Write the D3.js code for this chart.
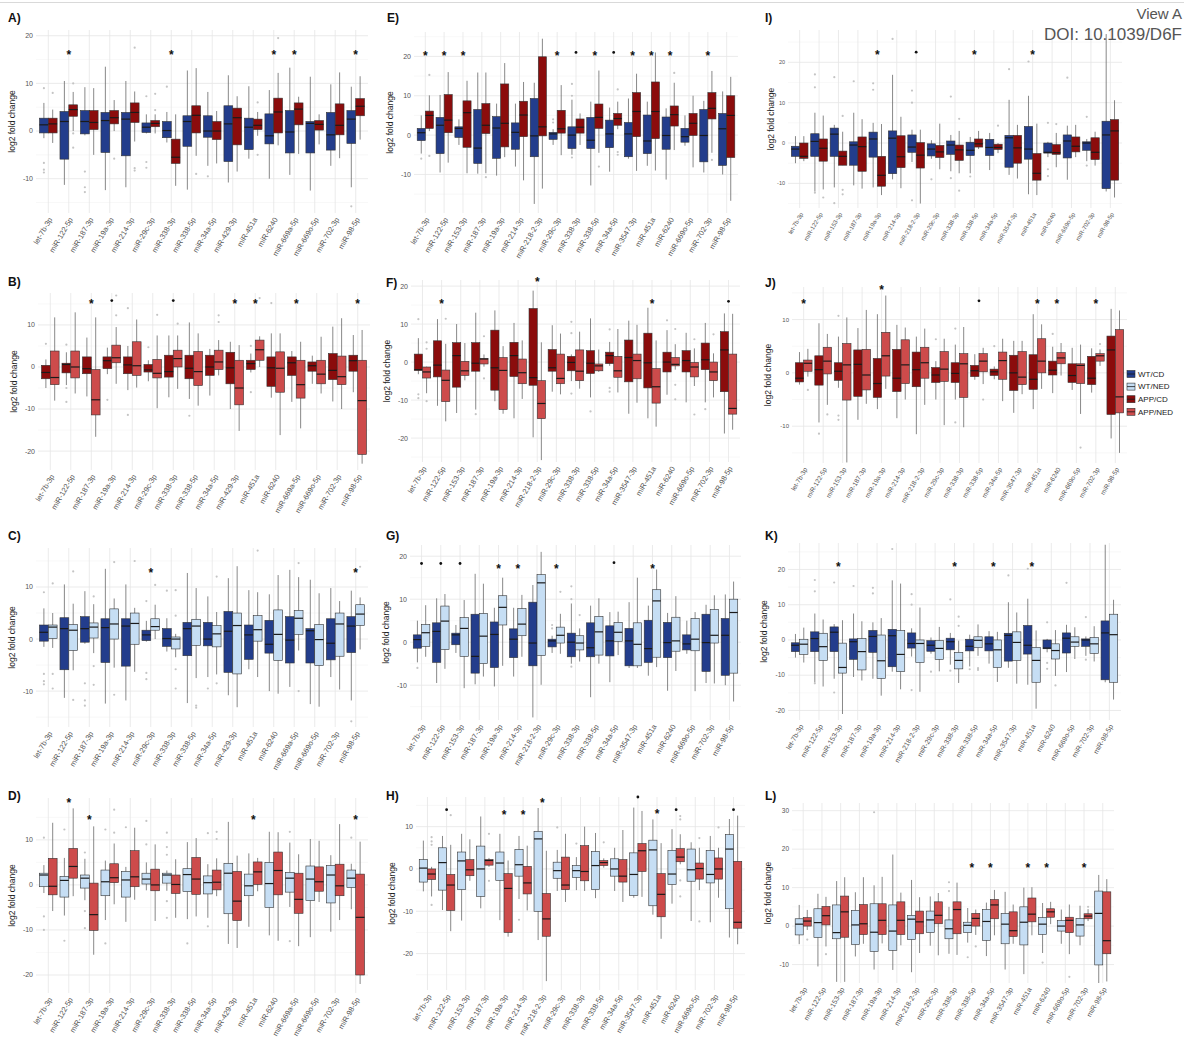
<!DOCTYPE html>
<html>
<head>
<meta charset="utf-8">
<script src="https://cdn.jsdelivr.net/npm/d3@7"></script>
<style>
body { margin: 0; background: #fff; }
svg { display: block; font-family: "Liberation Sans", Arial, sans-serif; }
</style>
</head>
<body>
<div id="chart"></div>
<script>
// categories
const CATS_16 = ["let-7b-3p", "miR-122-5p", "miR-187-3p", "miR-19a-3p", "miR-214-3p", "miR-29c-3p", "miR-338-3p", "miR-338-5p",
    "miR-34a-5p", "miR-429-3p", "miR-451a", "miR-6240", "miR-669a-5p", "miR-669o-5p", "miR-702-3p", "miR-98-5p"];
const CATS_17 = ["let-7b-3p", "miR-122-5p", "miR-153-3p", "miR-187-3p", "miR-19a-3p", "miR-214-3p", "miR-218-2-3p", "miR-29c-3p",
    "miR-338-3p", "miR-338-5p", "miR-34a-5p", "miR-3547-3p", "miR-451a", "miR-6240", "miR-669o-5p", "miR-702-3p", "miR-98-5p"];
const GROUPS = ["WT/CD", "WT/NED", "APP/CD", "APP/NED"];

// box rows: [lower whisker, q1, median, q3, upper whisker]; outliers: [category index, value]
// sig: [category index, mark, y]
const WTCD_A = [[-1.5,-0.4,1.3,2.7,5.9],[-11.3,-5.9,2,4.1,10.5],[-0.9,-0.6,2,4.3,9.2],[-12.4,-4.5,2.2,3.9,13.5],
    [-11.8,-5.2,2.5,3.9,10.5],[-0.5,-0.3,0.8,1.7,3.5],[-2.4,-1.4,0.1,2,4],[-12.3,-3.2,2,3.2,12.7],
    [-7.3,-1.3,0,3.2,8.2],[-10.8,-6.4,1.5,5.3,11.7],[-5.8,-3.9,0.8,2.7,9.4],[-10,-2.7,-1,3.6,8.6],
    [-9.2,-4.6,-0.2,4.3,13.3],[-12.5,-4.6,1.6,2,11.4],[-7.3,-4,-0.8,3.9,9.8],[-11.8,-2.6,2.5,4.3,9.3]];
const WTCD_A_OUT = [[0,9],[0,-6.7],[0,-8.1],[0,-8.7],[2,-8.5],[2,-11.8],[2,-12.8],[5,7.3],[5,-6.5],[5,-7.7],[6,9.3],[8,-9.5],[15,-15.8]];

const A_APPCD = [[-2.5,-0.4,1.5,2.7,4.5],[0,3.1,4.5,5.5,8.2],[-5,0.3,1.8,4.3,9],[0,1.5,2.8,4.3,6.5],
    [-2.2,1.8,3.9,5.9,8.3],[-0.5,0.9,1.6,2.2,3.5],[-11.5,-6.8,-5.5,-1.7,3.5],[-5.2,-0.4,3.3,5.3,13.2],
    [-6.8,-1.8,0,2,4.2],[-8.5,-2.9,2.8,4.8,7.3],[-1,0.3,1.2,2.5,4],[-3,-0.4,4,6.9,12.2],
    [-4.8,1.3,4.6,5.9,7.2],[-2.8,0.2,1.4,2.2,3.5],[-5.7,-0.8,1.2,5.7,12.3],[-1.8,3.2,5.2,6.8,11.5]];
const A_APPCD_OUT = [[0,8],[1,10],[1,-0.5],[1,-3.5],[3,-5.8],[4,17.5],[4,-7.8],[4,-8.3],[5,7.8],[5,4.4],[7,-9],[10,6],[10,-5],[11,19.5]];
const A_SIG = [[1,"*",16.3],[6,"*",16.3],[11,"*",16.3],[12,"*",16.3],[15,"*",16.3]];

const B_APPCD = [[-5,-2.8,-1.3,0.4,1.8],[-4.3,-1.4,0.6,0.9,3.5],[-7,-1.6,-0.4,2.4,7],[-1.7,-0.4,1.5,2.4,4.6],
    [-5.5,-1.6,0.5,2.4,5],[-3.4,-1.2,-0.7,0.6,1.6],[-7.2,-2.4,-1.1,2.8,7.5],[-7.6,-2.8,-0.3,2.8,10.6],
    [-6.8,-2,0,2.8,4.3],[-10,-4,-0.2,3.5,6],[-1.3,-0.6,0.8,1.6,3.2],[-7.3,-4.6,-0.2,2.4,8],
    [-8.3,-2,1,2.4,3.8],[-4,-1,0.3,1.2,2.7],[-8.2,-3,-0.8,3.2,9.6],[-6,-1,1.5,2.8,7.6]];
const B_APPCD_OUT = [[0,5.5],[1,5.3],[1,-5],[1,-8.3],[3,-7.8],[4,14],[4,-11.4],[5,4.7],[7,-11.6],[10,5],[10,-6],[11,15.2]];
const B_APPNED = [[-8,-4.2,-2.5,3.8,11.8],[-6.3,-2.6,0,3.8,13],[-16.6,-11.4,-7.8,-0.6,11.8],[-4,1,2.2,5.2,9.5],
    [-4.9,-2,0.3,6,11.3],[-9.8,-2.6,-1.5,1.8,7.5],[-5.2,0,2,4,7.5],[-9.2,-4.4,-1.1,3.7,8],
    [-2,-0.6,1.2,4,6.4],[-15.2,-9,-5,1.6,5.2],[0,1.6,4.1,6.4,7.3],[-16.2,-6,-0.3,3.6,8],
    [-14.6,-7.4,-4.2,1.6,6],[-6.3,-4,-1.7,1.6,7.2],[-10,-4.2,-2.3,2.6,11.6],[-23,-20.8,-8,1.6,8.8]];
const B_APPNED_OUT = [[3,17],[3,12.3],[5,12.4],[6,10.3],[8,12.3],[8,10.7],[10,16.4]];
const B_SIG = [[2,"*",15.4],[3,".",15.8],[6,".",15.8],[9,"*",15.4],[10,"*",15.4],[12,"*",15.4],[15,"*",15.4]];

const C_WTNED = [[-1.7,0.1,2.3,2.7,5],[-6,-2.2,1.7,2.8,6.8],[-2.7,0.2,2.3,3.1,6.7],[-5.5,0,2.9,5.8,7.8],
    [-6.3,-1,3,5,6],[0,1.7,2.4,3.9,6.6],[-3.5,-1.9,0,0.4,1],[-7.5,-1.2,2.5,3.8,9.8],
    [-6.8,-1.5,1,2.6,5.2],[-13.1,-6.7,2.6,5,14],[-7.3,-0.4,1.8,4.5,9],[-10.5,-4.1,0.9,5.6,12.3],
    [-2.2,0.9,4,5.5,11.9],[-13,-5.1,-0.1,2.8,8.8],[-9.7,-3.3,2.9,5,7.3],[-2,2.6,4.8,6.6,8]];
const C_WTNED_OUT = [[0,10.7],[0,-6.7],[0,-9.5],[1,13],[1,-11.7],[2,8.2],[2,-5.2],[2,-8.8],[3,14.8],[3,-10.7],[4,15],[5,10.4],
    [6,9.4],[6,4.5],[6,-5.8],[6,-9.5],[7,-12.8],[7,-13.2],[8,12],[8,-8.5],[10,17],[12,14.6],[12,-10],[15,13.9]];
const C_SIG = [[5,"*",13],[15,"*",13]];

const D_WTNED = [[-1.8,-0.4,2.2,2.6,4.4],[-6.8,-2.7,1,1.9,6],[-3.4,-0.7,1.5,2.2,5.8],[-7.8,-2.4,0.7,3.3,5.4],
    [-8.2,-2.7,1.1,3,4],[-1.2,0.2,1.3,2.6,5],[-1.3,0.4,2.2,2.6,3.2],[-7.6,-1.5,2.3,3.6,9.5],
    [-7.3,-2,0.5,2,4.6],[-13.1,-6.4,2.6,4.8,14],[-9.3,-2.4,-0.2,2.4,7],[-11.2,-5,0.3,5,11.8],
    [-4.9,-1.6,1.5,2.8,9.4],[-11.6,-3.5,1.3,4.2,10.2],[-10.4,-4,2.2,4.3,6.6],[-5.4,-0.6,1.5,3.3,4.7]];
const D_WTNED_OUT = [[0,10.5],[0,-7],[0,-10],[1,12.3],[1,-12.4],[2,7.2],[2,-5.8],[2,-9.6],[3,12.3],[3,-13],[4,12.8],[5,9],[5,14.2],
    [6,11.6],[6,8.4],[6,6.7],[6,-3.6],[6,-7.3],[7,-13],[8,11.5],[8,-9.2],[12,11.8],[12,-12.5],[15,10.5]];
const D_APPNED = [[-5.8,-2.2,-0.3,5.9,13.8],[-2.5,1.5,4.1,8.1,17],[-15.5,-10.1,-6.6,0.4,13],[-4.3,0.5,1.6,4.7,9.2],
    [-3.3,-0.4,1.8,7.6,12.7],[-8,-1.3,0,3.5,9],[-7.3,-1.9,0.1,2.2,5.7],[-7,-2.1,1.3,6.1,10.4],
    [-2.5,-1.1,0.6,3.3,5.9],[-14,-7.9,-3.6,3,6.5],[-1.4,0.1,2.9,5.1,6],[-12.4,-2.2,3.2,7.3,11.7],
    [-13.6,-6.3,-3.2,2.6,6.8],[-3.8,-1.4,0.7,4,9.8],[-7.8,-2.4,-0.2,4.6,13.5],[-22,-20,-7.2,2.4,9.6]];
const D_APPNED_OUT = [[3,16.7],[3,11.6],[8,11.8],[8,10.2]];
const D_SIG = [[1,"*",18.7],[2,"*",14.8],[10,"*",14.8],[15,"*",14.8]];

const WTCD_E = [[-4.7,-1.4,0.6,1.7,5],[-9.5,-4.7,2.5,4.5,10.2],[-2.5,-0.6,1.7,2.1,4],[-9.8,-7.2,-3.3,6.5,15.9],
    [-10.3,-5.9,1.8,4.7,8],[-8,-3.6,0.7,3.1,8],[-17.5,-5.5,-0.2,9.3,13.3],[-2.5,-1.1,0.3,0.7,1.5],
    [-5,-3.4,0,2.1,9],[-12.8,-3.4,-1.3,4.5,8.5],[-9.3,-3.2,0.3,3.8,7],[-6,-5.5,0.3,3.2,9.3],
    [-7.8,-4.7,-1.5,5.1,8.5],[-11.3,-3.6,-0.1,4.6,6.8],[-2.7,-1.8,-0.4,1.7,5],[-9.5,-6.8,-0.1,6.5,8.7],
    [-10,-7.7,1.6,5.5,11.1]];
const WTCD_E_OUT = [[0,-6],[7,4],[7,3.2],[8,13],[8,10],[8,-5.7]];

const E_APPCD = [[1,1.7,5,6.1,10.1],[-7,0.6,3.8,10.3,16],[-9.7,-3.1,5.7,8.7,13.8],[-9.7,0.4,2.5,8,15.9],
    [-5.6,-3,3,13,18.3],[-11.5,-0.4,5.1,8.6,13.5],[-13.6,-0.2,2.1,19.9,24.5],[-5.1,0.5,1.6,6.3,12.7],
    [-2.5,0.5,2,4.1,5.5],[-4.5,1.7,4.5,7.9,16.4],[1.5,2.5,4.2,5.5,8.5],[-9.1,-0.4,6,10.8,15.6],
    [-9,-0.9,6,13.5,21],[-3.8,2.3,5.2,7.4,13.3],[-8.2,-0.1,3,5.5,10],[-4.5,4.1,6.8,10.8,16.3],
    [-16.7,-5.7,5,10,14.8]];
const E_APPCD_OUT = [[0,15.3],[0,-5.3],[3,-10.7],[9,-8],[10,11.6],[10,-4.3],[10,-5],[13,15.8],[15,-6.3]];
const E_SIG = [[0,"*",20.6],[1,"*",20.6],[2,"*",20.6],[7,"*",20.6],[8,".",21],[9,"*",20.6],[10,".",21],
    [11,"*",20.6],[12,"*",20.6],[13,"*",20.6],[15,"*",20.6]];

const F_APPCD = [[-3.2,-2.2,-2,2.1,6.3],[-11.5,-3.9,-0.8,5.6,11.3],[-13.4,-6.6,1.7,5.1,10],[-12.5,-2.4,-0.3,5.1,13],
    [-10.3,-7.4,-1.5,8.4,13.6],[-14.8,-3.8,1.7,5.2,10.3],[-19.8,-6.1,-4.1,14.1,18.8],[-7.8,-2.4,-1.5,3.3,9.7],
    [-5,-2.3,-0.1,1.5,2],[-9.3,-3,-0.3,3,11.5],[-1,-0.4,1.7,2.6,5.3],[-13.6,-5.2,1.2,5.8,10.9],
    [-14.8,-6.8,-0.2,7.6,14.3],[-8.6,-2.6,0,2.6,8.4],[-10.6,-2.6,0.4,3,7.7],[-10.6,-2,0.6,5,10.3],
    [-18.8,-7.8,3.2,8,12.8]];
const F_APPCD_OUT = [[0,11.3],[0,-8.5],[0,-9.5],[3,-13.7],[8,10.6],[8,7.6],[8,-8.3],[9,-13],[10,8.6],[10,-6.8],[10,-7.8],[13,11],[15,-12.4]];
const F_APPNED = [[-8.2,-4.2,-2.6,-1.3,-1.2],[-15.6,-10.4,-4.8,-2.1,4.8],[-4.8,-3.5,-2.3,0.2,5],[-1.2,-0.5,0.8,0.9,2],
    [-13.6,-12.5,-2.2,1.2,4.2],[-9.7,-5.7,-2.8,0.8,5.7],[-25.8,-14.9,-10.9,-4.9,5.2],[-8.5,-5.7,-4.3,2.1,7.5],
    [-7,-4.9,-2.4,3.2,8],[-2.6,-2.3,-1,-0.5,3.3],[-8,-4,-2.3,1.5,8.7],[-10.7,-4.4,0.4,2.1,9.8],
    [-17,-10.8,-6.5,-1.7,5.7],[-2,-1,-0.6,1.2,4.7],[-6.3,-3.9,-1.3,-0.1,3.6],[-9.3,-4.9,-2.6,0,2.3],
    [-17.8,-13.7,-12.2,2.1,12.7]];
const F_APPNED_OUT = [[0,5.2],[0,3.5],[0,-10.3],[1,11.4],[3,6.8],[3,-4.3],[13,8.7],[13,-6],[13,-9.8],[14,6],[14,-13.8],[15,7.3]];
const F_SIG = [[1,"*",15.9],[6,"*",21.5],[12,"*",15.9],[16,".",16]];

const G_WTNED = [[-3.4,-1,2.2,4.1,8.6],[-6.2,-1.7,4.9,8.4,11.2],[-10.7,-3.3,3.2,5.7,9.8],[-8,-5,1.4,6.7,13.6],
    [-5.5,4,8.1,10.8,15],[-3.4,1.5,4.2,7.8,11],[-9.9,-3.1,13.8,15.7,21],[-2.7,-0.2,1.6,3.5,6.6],
    [-4.5,-1.8,-0.2,1.5,3.2],[-5,-3,2.4,6,10.2],[-3,0.2,2.3,4.6,7.1],[-6,-5.5,-0.5,4.5,15],
    [-5.8,-3.5,9.6,12.2,16.9],[-6.7,-2.1,0.3,5.8,10.7],[-11.4,-2,0.7,5.5,7],[-9.6,-0.2,1.6,7.6,10.9],
    [-13.8,-7.2,6.9,10,14.1]];
const G_WTNED_OUT = [[7,11.7],[8,6.3]];
const G_SIG = [[0,".",18.3],[1,".",18.3],[2,".",18.3],[4,"*",17.5],[5,"*",17.5],[7,"*",17.5],[10,".",18.5],[12,"*",17.5]];

const H_WTNED = [[-5.3,-3.1,0.2,2.2,6.7],[-9.7,-5,1.5,5,7.8],[-12.2,-4.9,1.9,4,8.3],[-9.3,-6.5,0,5.4,12.4],
    [-12.1,-2.7,1.4,4,8.3],[-7.1,-1.7,1,4.6,7.8],[-16.8,-10,7.1,8.9,14.4],[-5.2,-2.2,-0.4,1.6,4.5],
    [-5,-2,-0.4,0.8,2.8],[-6.9,-4.9,0.8,4.1,8.5],[-5.2,-1.7,0,2.4,5],[-6.8,-6.3,-1.3,3.8,14.5],
    [-10.8,-8.7,4.5,6.8,11.7],[-8.2,-3.7,-1.2,4.4,9.4],[-12.3,-2.9,-0.2,4.7,6.3],[-12.6,-3.3,-1.3,4.4,7.8],
    [-16.2,-9.4,4.7,8.1,11.8]];
const H_WTNED_OUT = [[5,-12],[7,9.8],[8,6]];
const H_APPNED = [[-6.5,-2.5,-1.2,0,0.5],[-14.7,-9.8,-3.8,-1.3,5.7],[-2.8,-1.6,-0.2,2.2,7],[0.5,0.9,2,2.2,2.6],
    [-16,-15,-4.6,-1.1,2],[-9.8,-5.9,-3.3,0.6,5.5],[-26.5,-15.9,-11.8,-5.8,4.3],[-7.8,-4.9,-3.8,2.8,8.3],
    [-5.2,-2.8,-0.6,5.5,10],[0.3,0.8,1.5,2,2.5],[-7.8,-3.1,-1.7,2.2,9.2],[-6.6,-0.6,4.3,6,13.7],
    [-16.5,-11.3,-6,-1.1,6.1],[1.1,1.7,2.8,4.8,8.2],[-5,-2.4,0.1,1.4,5],[-6.8,-2.4,0,2.6,5],
    [-17.8,-14,-12.6,1.8,12.6]];
const H_APPNED_OUT = [[0,7.5],[0,6.5],[0,5.7],[0,-8.5],[1,12.7],[3,8.3],[3,-2.8],[9,6.3],[13,12.5],[13,11.7],[13,-2.7],[13,-6.5],
    [14,7.3],[14,-12.4],[15,9.8]];
const H_SIG = [[1,".",14],[4,"*",13.2],[5,"*",13.2],[6,"*",16],[11,".",17],[12,"*",13.4],[13,".",14],[16,".",14]];

const WTCD_I = [[-5,-3.3,-1.5,-0.8,1.7],[-12,-3.3,0.4,2.3,7.5],[-11,-3.3,2.2,3.7,4.5],[-10.5,-5.5,-0.5,0.3,7.5],
    [-11,-3.5,1,2.7,5],[-9,-7.6,1.2,3,16.9],[-4.7,-2.3,-1,2,3.3],[-3.9,-3.2,-1.5,-0.2,0.7],
    [-7,-2.8,-0.5,0.5,2],[-7.5,-3.1,-1.8,0.2,1.5],[-6.7,-3.1,-1.1,0.9,2.5],[-7.9,-6,1.3,1.9,10.7],
    [-12.7,-4,-1.5,4.1,11.7],[-3.5,-2.5,-2.3,0,0.3],[-9.1,-3.7,0.5,2,4.3],[-4.5,-1.8,0,0.3,1],
    [-12,-11.3,2,5.4,27]];
const WTCD_I_OUT = [[1,17],[1,13.8],[1,-12.3],[2,16.3],[2,-14.9],[3,15.3],[4,14.8],[4,13.2],[5,25.8],[6,13],[6,10],[6,-14.2],
    [7,-9],[8,11.5],[8,-8.7],[9,-8.3],[11,18.3],[12,20.2],[13,5],[13,-6.5],[13,-8.2],[14,16.2],[15,6.5],[15,-5.6]];

const I_APPCD = [[-4.5,-3.8,-3.3,0,1.7],[-11.5,-4.5,-1.3,1,6.8],[-5.5,-5.5,-3.3,-2,2.8],[-11.3,-7,-0.9,1.5,5.9],
    [-12.9,-10.7,-8,-3.3,4.7],[-11.2,-6.1,-3.4,1.8,6.5],[-15,-6.2,-3,0.1,3.3],[-6.5,-3.6,-2.2,-0.6,4.8],
    [-7.5,-4.3,-1.7,-0.5,3],[-1.5,-1,-0.2,1,3],[-2.5,-1.6,-1.1,-0.3,0],[-8.8,-5,-1.2,1.9,4.5],
    [-12.9,-9.2,-7.5,-2.6,4.8],[-6,-2.8,-2.4,-0.4,2.5],[-3.5,-2.2,-0.8,1.5,4.5],[-5.6,-4.1,-2.3,1.3,2.8],
    [-13.5,-9.2,3,5.8,10.6]];
const I_APPCD_OUT = [[1,-13.5],[2,6.7],[2,-11.6],[2,-12.7],[8,6],[8,-11.8],[10,4.3],[13,4.7]];
const I_SIG = [[4,"*",22.3],[6,".",22.5],[9,"*",22.3],[12,"*",22.3]];

const J_APPCD = [[-2.2,-1.7,-1,1.9,3.9],[-9.3,-2.3,0.6,3.2,9.3],[-2.8,-1.4,0.3,1.9,6.8],[-8.8,-4.4,1.6,4.3,8.4],
    [-6.8,-4.6,-2,2.7,11],[-8.5,-3.5,-1,4.4,9],[-11.5,-2.6,0.6,3.9,6.8],[-5,-1.8,-0.4,1,2.2],
    [-5,-1.8,-0.1,1.9,5.3],[-1.3,-0.7,0.4,1.4,3.5],[-1.2,-0.5,0.2,0.7,1.2],[-7.5,-3.3,0,3.3,6],
    [-6.8,-3.1,-1.2,3.4,11],[-3.8,-0.4,0.5,2.2,4.9],[-3.2,-1.8,-0.5,1.7,4.7],[-3.7,-2.2,-1,3.1,4.6],
    [-12.3,-7.8,4.3,6.9,12]];
const J_APPCD_OUT = [[1,-11.4],[2,10.7],[2,-8],[2,-8.8],[7,6.3],[8,8.3],[8,-9.3],[10,5],[13,7.3]];
const J_APPNED = [[-0.7,0.3,1.8,2.4,4.5],[-6,-0.2,2.2,4.8,7.3],[-16.8,-5.1,1.5,5.5,10.4],[-5.8,-3.2,-0.4,4.4,11.8],
    [-3,-0.6,3.2,7.6,14.5],[-5,-2,1.5,6.2,8.5],[-6,-1,1.9,4.8,8.3],[-9.8,-1.6,0.7,4,6.4],
    [-10.2,-4.6,1.7,3.6,8.6],[-2.1,0.2,2.2,3.6,4.7],[-5.3,-1.2,2.3,3.9,6.4],[-4,-2.2,-0.8,4,6],
    [-3,0,2.2,6.4,9.1],[-0.5,1.7,2.8,3.8,5.6],[-7.7,-2,1.4,1.7,5.3],[1.3,2.2,3.2,3.6,4.4],
    [-15,-7.5,-4.5,8.1,11.7]];
const J_APPNED_OUT = [[0,-3.2],[1,-7.8],[9,-5],[14,-14],[15,5.4]];
const J_SIG = [[0,"*",13.2],[4,"*",16],[9,".",13.5],[12,"*",13.2],[13,"*",13.2],[15,"*",13.2]];

const K_WTNED = [[-6.4,-4.1,-1.2,0.2,3.5],[-13.2,-5.8,-1.9,1.9,5.8],[-21,-9.4,-7.8,-0.9,5.6],[-11.5,-8.5,-3.3,0.4,5.3],
    [-15.8,-10.9,-5.9,1.4,6.2],[-14,-9,-4.1,2.7,16],[-14.7,-6.4,-1,0,9.2],[-8.9,-5.5,-2.4,-0.2,3.7],
    [-12.2,-8.2,-5.8,-3.5,-0.2],[-4.5,-2.2,-0.1,0.9,4.4],[-11.9,-7.8,-2.8,0,2.3],[-12.4,-5.8,-0.7,2.3,7.8],
    [-19.5,-12,-5.8,-2.1,2.7],[-10.2,-5.4,-3,-1.1,2.8],[-5.4,-1.8,-0.6,0.9,3.6],[-6.1,-3.8,-1.1,0.7,3.9],
    [-16.9,-12,1.5,7.3,11.4]];
const K_WTNED_OUT = [[8,6.6],[8,4],[9,-8],[9,-8.5],[13,-12.9]];
const K_SIG = [[2,"*",21.3],[8,"*",21.3],[10,"*",21.3],[12,"*",21.3]];

const L_WTNED = [[-4.7,-2.3,0.5,1.9,5.5],[-10.5,-3,0.9,4.5,8.4],[-14.5,-3.3,-1.7,5.5,11.7],[-7.9,-4.8,0.3,4.1,8.8],
    [-11.3,-6.6,-1.6,5.8,10.6],[-11.4,-6.3,-1.3,5.5,18.6],[-12,-3.5,1.8,2.8,12],[-5.1,-1.7,1.6,3.9,7.7],
    [-7.2,-3.3,-0.7,1.6,5],[-4.3,-1.7,0.2,1,4.7],[-7.8,-3.7,1.2,4.3,6.1],[-11.3,-4.6,0.5,3.3,8.9],
    [-12.5,-4.9,1,5,10],[-7,-2.2,0.5,2.2,6],[-4.6,-1.3,0,1.4,4.3],[-5,-2.6,0.3,2,5.3],
    [-14.8,-10.1,3.3,9.1,13.3]];
const L_WTNED_OUT = [[4,29.6],[8,11.4],[8,9.1],[9,-8.1],[13,-9.5]];
const L_APPNED = [[-1,0,1.3,2.2,4.2],[-5.3,0.3,2.7,5.1,7.6],[-14.5,-2.9,3.7,7.8,12.7],[-4.6,-2.2,0.6,5.6,12.7],
    [-4.5,-2.2,1.5,5.8,12.8],[-5,-2.2,1.5,6.3,8.7],[-7,-2,1.1,3.9,7.5],[-7.6,0.6,2.8,6.3,8.6],
    [-7.5,-2,4.3,6.3,11.3],[-2.3,0,2,3.3,4.3],[-2.4,1.9,5.5,6.9,9.4],[-4.6,-2.7,-1.2,3.7,5.6],
    [-2.4,1.1,3.1,7.3,10.1],[0.5,2.3,3.7,4.5,6.3],[-7.3,-1.7,1.5,2.3,5.6],[1.3,1.9,2.6,3.2,4.4],
    [-14.4,-7.2,-3.8,8.9,12.2]];
const L_APPNED_OUT = [[0,-3.5],[1,-7.3],[9,-5.3],[14,-13.2],[15,5]];
const L_SIG = [[9,"*",15.7],[10,"*",15.7],[12,"*",15.7],[13,"*",15.7],[15,"*",15.7]];

// constants
const WIDTH = 1184;
const HEIGHT = 1050;
const FONT = "'Liberation Sans', Arial, sans-serif";
const COLOURS = {"WT/CD": "#233d8c", "WT/NED": "#c6def4", "APP/CD": "#8b0c0c", "APP/NED": "#cd4b4b"};
const BOX_FRACTION = 0.43;

// panel rectangles, y ranges and font sizes
const LAYOUT = {
    A: {x0: 36, x1: 368, y0: 30, y1: 213, dom: [-17.2, 21.2], fs: 7.5, tx: 8, ty: 22},
    B: {x0: 38, x1: 370, y0: 293, y1: 470, dom: [-24.5, 17.6], fs: 7.5, tx: 8, ty: 286},
    C: {x0: 36, x1: 368, y0: 548, y1: 727, dom: [-16.9, 17.5], fs: 7.5, tx: 8, ty: 540},
    D: {x0: 36, x1: 368, y0: 798, y1: 993, dom: [-24, 19.3], fs: 7.5, tx: 8, ty: 800},
    E: {x0: 414, x1: 738, y0: 32, y1: 213, dom: [-19.8, 26.2], fs: 7.5, tx: 387, ty: 22},
    F: {x0: 411, x1: 740, y0: 280, y1: 462, dom: [-26.3, 21.6], fs: 7.5, tx: 386, ty: 287},
    G: {x0: 410, x1: 741, y0: 545, y1: 720, dom: [-18.1, 22.6], fs: 7.5, tx: 386, ty: 540},
    H: {x0: 416, x1: 745, y0: 797, y1: 990, dom: [-28.6, 17], fs: 7.5, tx: 386, ty: 800},
    I: {x0: 788, x1: 1122, y0: 30, y1: 208, dom: [-16.1, 28], fs: 6, tx: 765, ty: 22},
    J: {x0: 792, x1: 1127, y0: 287, y1: 463, dom: [-16.9, 16.1], fs: 6.5, tx: 765, ty: 287},
    K: {x0: 788, x1: 1121, y0: 543, y1: 720, dom: [-22.7, 27.5], fs: 7, tx: 765, ty: 540},
    L: {x0: 792, x1: 1114, y0: 803, y1: 983, dom: [-14.8, 32], fs: 7, tx: 765, ty: 800},
};

const PANELS = [
    {id: "A", cats: CATS_16, groups: ["WT/CD", "APP/CD"], boxes: [WTCD_A, A_APPCD], outs: [WTCD_A_OUT, A_APPCD_OUT], sig: A_SIG},
    {id: "B", cats: CATS_16, groups: ["APP/CD", "APP/NED"], boxes: [B_APPCD, B_APPNED], outs: [B_APPCD_OUT, B_APPNED_OUT], sig: B_SIG},
    {id: "C", cats: CATS_16, groups: ["WT/CD", "WT/NED"], boxes: [WTCD_A, C_WTNED], outs: [WTCD_A_OUT, C_WTNED_OUT], sig: C_SIG},
    {id: "D", cats: CATS_16, groups: ["WT/NED", "APP/NED"], boxes: [D_WTNED, D_APPNED], outs: [D_WTNED_OUT, D_APPNED_OUT], sig: D_SIG},
    {id: "E", cats: CATS_17, groups: ["WT/CD", "APP/CD"], boxes: [WTCD_E, E_APPCD], outs: [WTCD_E_OUT, E_APPCD_OUT], sig: E_SIG},
    {id: "F", cats: CATS_17, groups: ["APP/CD", "APP/NED"], boxes: [F_APPCD, F_APPNED], outs: [F_APPCD_OUT, F_APPNED_OUT], sig: F_SIG},
    {id: "G", cats: CATS_17, groups: ["WT/CD", "WT/NED"], boxes: [WTCD_E, G_WTNED], outs: [WTCD_E_OUT, G_WTNED_OUT], sig: G_SIG},
    {id: "H", cats: CATS_17, groups: ["WT/NED", "APP/NED"], boxes: [H_WTNED, H_APPNED], outs: [H_WTNED_OUT, H_APPNED_OUT], sig: H_SIG},
    {id: "I", cats: CATS_17, groups: ["WT/CD", "APP/CD"], boxes: [WTCD_I, I_APPCD], outs: [WTCD_I_OUT, I_APPCD_OUT], sig: I_SIG},
    {id: "J", cats: CATS_17, groups: ["APP/CD", "APP/NED"], boxes: [J_APPCD, J_APPNED], outs: [J_APPCD_OUT, J_APPNED_OUT], sig: J_SIG},
    {id: "K", cats: CATS_17, groups: ["WT/CD", "WT/NED"], boxes: [WTCD_I, K_WTNED], outs: [WTCD_I_OUT, K_WTNED_OUT], sig: K_SIG},
    {id: "L", cats: CATS_17, groups: ["WT/NED", "APP/NED"], boxes: [L_WTNED, L_APPNED], outs: [L_WTNED_OUT, L_APPNED_OUT], sig: L_SIG},
];

const svg = d3.select("#chart").append("svg")
    .attr("width", WIDTH)
    .attr("height", HEIGHT)
    .style("font-family", FONT);

svg.append("rect").attr("width", WIDTH).attr("height", HEIGHT).attr("fill", "#fff");
svg.append("line")
    .attr("x1", 0).attr("x2", WIDTH).attr("y1", 2.5).attr("y2", 2.5)
    .attr("stroke", "#d9d9d9").attr("stroke-width", 1);

PANELS.forEach(p => drawPanel(p));
drawLegend();
drawHeader();

function drawPanel(p) {
    const L = LAYOUT[p.id];
    const g = svg.append("g").attr("class", "panel");

    const x = d3.scaleBand().domain(p.cats).range([L.x0, L.x1]).paddingInner(0).paddingOuter(0.1);
    const y = d3.scaleLinear().domain(L.dom).range([L.y1, L.y0]);
    const cx = c => x(c) + x.bandwidth() / 2;
    const bw = x.step() * BOX_FRACTION;

    const major = d3.range(Math.ceil(L.dom[0] / 10) * 10, L.dom[1], 10);
    const minor = d3.range(Math.ceil((L.dom[0] - 5) / 10) * 10 + 5, L.dom[1], 10).filter(v => v > L.dom[0]);

    // grid
    g.selectAll(".minor").data(minor).enter().append("line")
        .attr("x1", L.x0).attr("x2", L.x1)
        .attr("y1", d => y(d)).attr("y2", d => y(d))
        .attr("stroke", "#f3f3f3").attr("stroke-width", 0.6);
    g.selectAll(".major").data(major).enter().append("line")
        .attr("x1", L.x0).attr("x2", L.x1)
        .attr("y1", d => y(d)).attr("y2", d => y(d))
        .attr("stroke", "#e6e6e6").attr("stroke-width", 0.8);
    g.selectAll(".vgrid").data(p.cats).enter().append("line")
        .attr("x1", d => cx(d)).attr("x2", d => cx(d))
        .attr("y1", L.y0).attr("y2", L.y1)
        .attr("stroke", "#e6e6e6").attr("stroke-width", 0.8);

    // y axis tick labels
    g.selectAll(".ytick").data(major).enter().append("text")
        .attr("x", L.x0 - 3)
        .attr("y", d => y(d))
        .attr("dy", "0.35em")
        .attr("text-anchor", "end")
        .attr("font-size", L.fs - 0.5)
        .attr("fill", "#555")
        .text(d => d);

    // y axis title
    const yTitleX = L.x0 - (p.id === "I" ? 14 : 21);
    g.append("text")
        .attr("transform", "translate(" + yTitleX + "," + ((L.y0 + L.y1) / 2) + ") rotate(-90)")
        .attr("text-anchor", "middle")
        .attr("font-size", 8.5)
        .attr("fill", "#222")
        .text("log2 fold change");

    // x labels
    g.selectAll(".xlab").data(p.cats).enter().append("text")
        .attr("transform", d => "translate(" + (cx(d) + 2) + "," + (L.y1 + 5) + ") rotate(-60)")
        .attr("text-anchor", "end")
        .attr("dy", "0.35em")
        .attr("font-size", L.fs)
        .attr("fill", "#555")
        .text(d => d);

    // boxes
    const boxes = [];
    const points = [];
    p.boxes.forEach((rows, gi) => {
        rows.forEach((r, ci) => {
            const cat = p.cats[ci];
            const left = gi === 0 ? cx(cat) - bw : cx(cat);
            boxes.push({group: p.groups[gi], left: left, lo: r[0], q1: r[1], med: r[2], q3: r[3], hi: r[4]});
        });
        p.outs[gi].forEach(o => {
            const cat = p.cats[o[0]];
            const left = gi === 0 ? cx(cat) - bw : cx(cat);
            points.push({x: left + bw / 2, v: o[1]});
        });
    });

    g.selectAll(".outlier").data(points).enter().append("circle")
        .attr("cx", d => d.x)
        .attr("cy", d => y(d.v))
        .attr("r", 1.1)
        .attr("fill", "#c4c4c4");

    const box = g.selectAll(".box").data(boxes).enter().append("g");
    box.append("line")
        .attr("x1", d => d.left + bw / 2).attr("x2", d => d.left + bw / 2)
        .attr("y1", d => y(d.lo)).attr("y2", d => y(d.hi))
        .attr("stroke", "#6a6a6a").attr("stroke-width", 0.8);
    box.append("rect")
        .attr("x", d => d.left)
        .attr("width", bw)
        .attr("y", d => y(d.q3))
        .attr("height", d => Math.max(0.8, y(d.q1) - y(d.q3)))
        .attr("fill", d => COLOURS[d.group])
        .attr("stroke", "#333").attr("stroke-width", 0.6);
    box.append("line")
        .attr("x1", d => d.left).attr("x2", d => d.left + bw)
        .attr("y1", d => y(d.med)).attr("y2", d => y(d.med))
        .attr("stroke", "#1a1a1a").attr("stroke-width", 1.2);

    // significance marks
    const sig = p.sig.map(s => ({x: cx(p.cats[s[0]]), mark: s[1], v: s[2]}));
    g.selectAll(".star").data(sig.filter(d => d.mark === "*")).enter().append("text")
        .attr("x", d => d.x)
        .attr("y", d => y(d.v) + 6)
        .attr("text-anchor", "middle")
        .attr("font-size", 12)
        .attr("font-weight", "bold")
        .attr("fill", "#111")
        .text("*");
    g.selectAll(".dot").data(sig.filter(d => d.mark === ".")).enter().append("circle")
        .attr("cx", d => d.x)
        .attr("cy", d => y(d.v))
        .attr("r", 1.4)
        .attr("fill", "#111");

    // panel letter
    g.append("text")
        .attr("x", L.tx)
        .attr("y", L.ty)
        .attr("font-size", 12)
        .attr("font-weight", "bold")
        .attr("fill", "#111")
        .text(p.id + ")");
}

function drawLegend() {
    const lg = svg.append("g").attr("transform", "translate(1127, 374)");
    const item = lg.selectAll(".item").data(GROUPS).enter().append("g")
        .attr("transform", (d, i) => "translate(0," + (i * 12.6) + ")");
    item.append("rect")
        .attr("x", 0).attr("y", -3.5)
        .attr("width", 8).attr("height", 7)
        .attr("fill", d => COLOURS[d])
        .attr("stroke", "#333").attr("stroke-width", 0.6);
    item.append("line")
        .attr("x1", 0).attr("x2", 8).attr("y1", 0).attr("y2", 0)
        .attr("stroke", "#1a1a1a").attr("stroke-width", 0.8);
    item.append("text")
        .attr("x", 11).attr("y", 0).attr("dy", "0.35em")
        .attr("font-size", 8)
        .attr("fill", "#222")
        .text(d => d);
}

function drawHeader() {
    // the page header is cropped at the right edge in the source; only its visible part is kept
    svg.append("text")
        .attr("x", 1182).attr("y", 19)
        .attr("text-anchor", "end")
        .attr("font-size", 15)
        .attr("fill", "#555")
        .text("View A");
    svg.append("text")
        .attr("x", 1182).attr("y", 40)
        .attr("text-anchor", "end")
        .attr("font-size", 17)
        .attr("fill", "#555")
        .text("DOI: 10.1039/D6F");
}
</script>
</body>
</html>
